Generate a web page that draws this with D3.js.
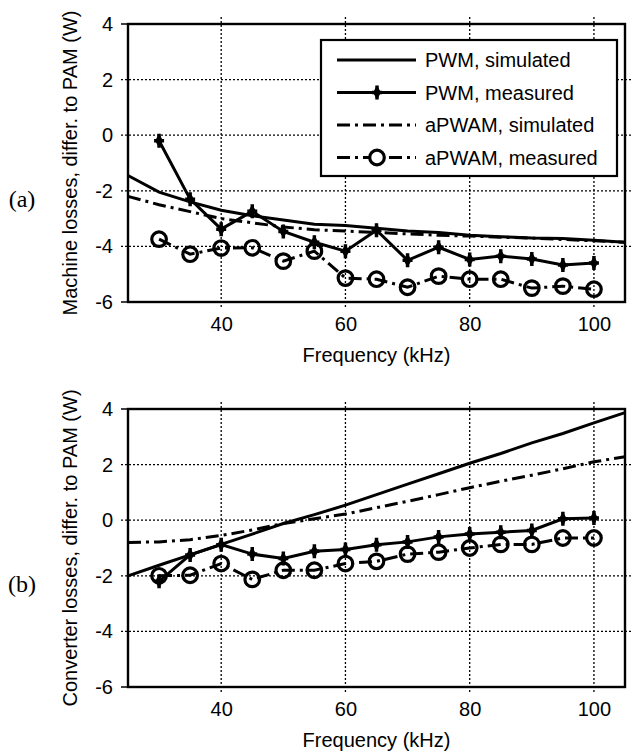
<!DOCTYPE html>
<html>
<head>
<meta charset="utf-8">
<script src="https://cdn.jsdelivr.net/npm/d3@7"></script>
<style>
  body { margin: 0; background: #fff; }
  text { font-family: "Liberation Sans", Arial, sans-serif; fill: #000; }
</style>
</head>
<body>
<div id="chart"></div>
<script>
// DATA
const simFreq = [25, 30, 35, 40, 45, 50, 55, 60, 65, 70, 75, 80, 85, 90, 95, 100, 105]
const measFreq = [30, 35, 40, 45, 50, 55, 60, 65, 70, 75, 80, 85, 90, 95, 100]

// (a) machine losses
const machPwmSim = [-1.45, -2.05, -2.4, -2.7, -2.9, -3.05, -3.2, -3.25, -3.35, -3.45, -3.5, -3.6, -3.65, -3.7, -3.72, -3.78, -3.85]
const machApwamSim = [-2.2, -2.5, -2.75, -3.0, -3.15, -3.3, -3.4, -3.45, -3.5, -3.55, -3.6, -3.63, -3.67, -3.7, -3.75, -3.8, -3.85]
const machPwmMeas = [-0.2, -2.3, -3.38, -2.74, -3.46, -3.85, -4.17, -3.42, -4.5, -4.03, -4.47, -4.35, -4.45, -4.67, -4.6]
const machApwamMeas = [-3.74, -4.28, -4.06, -4.05, -4.53, -4.17, -5.14, -5.18, -5.47, -5.07, -5.18, -5.18, -5.5, -5.43, -5.54]

// (b) converter losses
const convPwmSim = [-2.0, -1.62, -1.25, -0.87, -0.5, -0.12, 0.2, 0.54, 0.92, 1.3, 1.67, 2.05, 2.4, 2.78, 3.12, 3.5, 3.87]
const convApwamSim = [-0.8, -0.78, -0.7, -0.55, -0.35, -0.12, 0.05, 0.22, 0.45, 0.68, 0.92, 1.17, 1.4, 1.62, 1.85, 2.1, 2.28]
const convPwmMeas = [-2.2, -1.25, -0.88, -1.22, -1.38, -1.12, -1.05, -0.88, -0.78, -0.6, -0.5, -0.43, -0.37, 0.05, 0.08]
const convApwamMeas = [-2.0, -1.98, -1.56, -2.13, -1.8, -1.8, -1.56, -1.48, -1.22, -1.15, -1.0, -0.87, -0.87, -0.64, -0.64]

const xTicks = [40, 60, 80, 100]
const yTicks = [-6, -4, -2, 0, 2, 4]
const legendLabels = ["PWM, simulated", "PWM, measured", "aPWAM, simulated", "aPWAM, measured"]

// DIMENSIONS
const width = 631
const height = 751
const plotW = 497
const plotH = 278
const panels = [
  { top: 24, label: "(a)", ylabel: "Machine losses, differ. to PAM (W)",
    sim: [machPwmSim, machApwamSim], meas: [machPwmMeas, machApwamMeas], legend: true },
  { top: 409, label: "(b)", ylabel: "Converter losses, differ. to PAM (W)",
    sim: [convPwmSim, convApwamSim], meas: [convPwmMeas, convApwamMeas], legend: false },
]
const left = 128
const dashDot = "13,5,3,5"
const fontSize = "20px"

const svg = d3.select("#chart").append("svg")
  .attr("width", width)
  .attr("height", height)

const x = d3.scaleLinear().domain([25, 105]).range([0, plotW])
const y = d3.scaleLinear().domain([-6, 4]).range([plotH, 0])

const drawPlus = (g, px, py) => {
  g.append("path")
    .attr("transform", `translate(${px},${py})`)
    .attr("d", "M0,-7L0,7M-5,0L5,0")
    .attr("stroke", "#000")
    .attr("stroke-width", 3.5)
    .attr("fill", "none")
  g.append("path")
    .attr("transform", `translate(${px},${py})`)
    .attr("d", d3.symbol(d3.symbolDiamond, 55)())
    .attr("fill", "#000")
}

const drawCircle = (g, px, py, fill) => {
  g.append("circle")
    .attr("cx", px).attr("cy", py).attr("r", 7.3)
    .attr("fill", fill || "none")
    .attr("stroke", "#000")
    .attr("stroke-width", 3.2)
}

panels.forEach((p) => {
  const g = svg.append("g").attr("transform", `translate(${left},${p.top})`)

  // grid (dotted, running a little past the frame as ticks)
  g.selectAll(".vgrid").data(xTicks).enter().append("line")
    .attr("x1", (d) => x(d)).attr("x2", (d) => x(d))
    .attr("y1", -7).attr("y2", plotH + 6)
    .attr("stroke", "#000").attr("stroke-width", 1.3).attr("stroke-dasharray", "2,2")
  g.selectAll(".hgrid").data(yTicks.filter((d) => d > -6 && d < 4)).enter().append("line")
    .attr("x1", -7).attr("x2", plotW + 7)
    .attr("y1", (d) => y(d)).attr("y2", (d) => y(d))
    .attr("stroke", "#000").attr("stroke-width", 1.3).attr("stroke-dasharray", "2,2")
  g.selectAll(".ltick").data([4, -6]).enter().append("line")
    .attr("x1", -7).attr("x2", 0)
    .attr("y1", (d) => y(d)).attr("y2", (d) => y(d))
    .attr("stroke", "#000").attr("stroke-width", 1.5)

  // frame
  g.append("rect")
    .attr("width", plotW).attr("height", plotH)
    .attr("fill", "none").attr("stroke", "#000").attr("stroke-width", 2.4)

  // axes labels
  const xAxis = d3.axisBottom(x).tickValues(xTicks).tickSize(0).tickPadding(15)
    .tickFormat((d) => String(d))
  const xg = g.append("g").attr("transform", `translate(0,${plotH})`).call(xAxis)
  xg.select(".domain").remove()
  xg.selectAll("text").style("font-size", fontSize).style("font-family", "Liberation Sans, Arial, sans-serif")

  const yAxis = d3.axisLeft(y).tickValues(yTicks).tickSize(0).tickPadding(15)
    .tickFormat((d) => String(d))
  const yg = g.append("g").call(yAxis)
  yg.select(".domain").remove()
  yg.selectAll("text").style("font-size", fontSize).style("font-family", "Liberation Sans, Arial, sans-serif")

  g.append("text")
    .attr("x", plotW / 2).attr("y", plotH + 60)
    .attr("text-anchor", "middle")
    .style("font-size", fontSize)
    .text("Frequency (kHz)")

  g.append("text")
    .attr("transform", `translate(-51,${plotH / 2}) rotate(-90)`)
    .attr("text-anchor", "middle")
    .style("font-size", fontSize)
    .text(p.ylabel)

  svg.append("text")
    .attr("x", 22).attr("y", p.top + y(-2) + 16)
    .attr("text-anchor", "middle")
    .style("font-family", "Liberation Serif, Times New Roman, serif")
    .style("font-size", "24px")
    .text(p.label)

  // lines
  const plot = g.append("g")
  const simLine = d3.line().x((d, i) => x(simFreq[i])).y((d) => y(d))
  const measLine = d3.line().x((d, i) => x(measFreq[i])).y((d) => y(d))

  plot.append("path").datum(p.sim[0]).attr("d", simLine)
    .attr("fill", "none").attr("stroke", "#000").attr("stroke-width", 3)
  plot.append("path").datum(p.sim[1]).attr("d", simLine)
    .attr("fill", "none").attr("stroke", "#000").attr("stroke-width", 3)
    .attr("stroke-dasharray", dashDot)

  plot.append("path").datum(p.meas[1]).attr("d", measLine)
    .attr("fill", "none").attr("stroke", "#000").attr("stroke-width", 3)
    .attr("stroke-dasharray", dashDot)
  p.meas[1].forEach((d, i) => drawCircle(plot, x(measFreq[i]), y(d)))

  plot.append("path").datum(p.meas[0]).attr("d", measLine)
    .attr("fill", "none").attr("stroke", "#000").attr("stroke-width", 3)
  p.meas[0].forEach((d, i) => drawPlus(plot, x(measFreq[i]), y(d)))

  // legend
  if (p.legend) {
    const lg = svg.append("g").attr("transform", "translate(321,40)")
    lg.append("rect").attr("width", 296).attr("height", 136)
      .attr("fill", "#fff").attr("stroke", "#000").attr("stroke-width", 2.2)
    legendLabels.forEach((lab, i) => {
      const ly = 20 + i * 32.5
      lg.append("line")
        .attr("x1", 16).attr("x2", 95).attr("y1", ly).attr("y2", ly)
        .attr("stroke", "#000").attr("stroke-width", 3.2)
        .attr("stroke-dasharray", i < 2 ? null : dashDot)
      if (i === 1) drawPlus(lg, 56, ly)
      if (i === 3) drawCircle(lg, 56, ly, "#fff")
      lg.append("text")
        .attr("x", 104).attr("y", ly + 7)
        .style("font-size", fontSize)
        .text(lab)
    })
  }
})
</script>
</body>
</html>
